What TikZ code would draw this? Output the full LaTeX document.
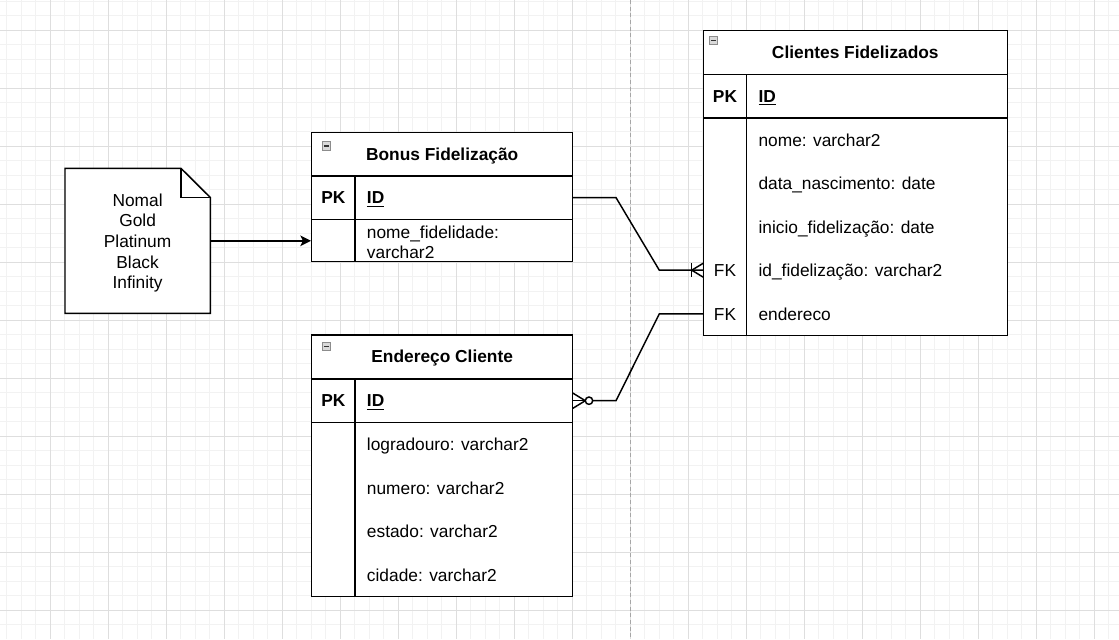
\documentclass[tikz,border=0pt]{standalone}
\usepackage{fontspec}
\setmainfont{Liberation Sans}
\usetikzlibrary{arrows.meta,fit}
\begin{document}
\begin{tikzpicture}[x=0.75pt,y=-0.75pt,
  minor/.style={draw=black!5,line width=0.75pt},
  major/.style={draw=black!13,line width=0.75pt},
  pagebreak/.style={draw=black!35,line width=0.75pt,dash pattern=on 3pt off 2pt},
  box/.style={draw=black,line width=1.1pt,fill=white,inner sep=0pt},
  sep/.style={draw=black,line width=1.1pt},
  lnk/.style={draw=black,line width=1.1pt},
  txt/.style={font=\fontsize{13}{15}\selectfont,inner sep=0pt},
  ttl/.style={font=\fontsize{13}{15}\selectfont\bfseries,inner sep=0pt},
  icon/.style={draw=black!45,fill=black!15,line width=0.5pt},
  iconbar/.style={draw=black!80,line width=0.9pt}]

\fill[white] (0,0) rectangle (1119,639);
\useasboundingbox (0,0) rectangle (1119,639);

% grid
\foreach \i in {0,...,76} { \draw[minor] ({6.5+14.5*\i},0) -- ({6.5+14.5*\i},639); }
\foreach \j in {0,...,43} { \draw[minor] (0,{1.3+14.5*\j}) -- (1119,{1.3+14.5*\j}); }
\foreach \i in {0,...,18} { \draw[major] ({50+58*\i},0) -- ({50+58*\i},639); }
\foreach \j in {0,...,10} { \draw[major] (0,{30.3+58*\j}) -- (1119,{30.3+58*\j}); }
\draw[pagebreak] (630,0) -- (630,639);

% note
\node[inner sep=0pt,fit={(65,168.3) (210.3,313.3)}] (note) {};
\draw[box] (65,168.3) -- (181,168.3) -- (210.3,197.5) -- (210.3,313.3) -- (65,313.3) -- cycle;
\draw[sep] (181,168.3) -- (181,197.5) -- (210.3,197.5);
\node[txt,align=center,font=\fontsize{13}{15.5}\selectfont] (noteT) at (137.6,243) {Nomal\\Gold\\Platinum\\Black\\Infinity};

% Bonus Fidelizacao
\node[box,fit={(311.7,132.3) (572.7,261.7)}] (bonus) {};
\draw[sep] (311.7,176) -- (572.7,176);
\draw[sep] (311.7,219.3) -- (572.7,219.3);
\draw[sep] (355,176) -- (355,261.7);
\draw[icon] (322.3,141.7) rectangle (330.5,150);
\draw[iconbar] (323.8,145.9) -- (329,145.9);
\node[ttl,anchor=base] (bonusT) at (442.2,160) {Bonus Fidelização};
\node[ttl,anchor=base] (bonusPK) at (333.4,203.9) {PK};
\node[ttl,anchor=base west] (bonusID) at (366.7,203.9) {\underline{ID}};
\node[txt,anchor=north west,align=left] (bonusF) at (366.7,225.6) {nome\_fidelidade:\\varchar2};

% Clientes Fidelizados
\node[box,fit={(703.3,30.7) (1007.3,335.3)}] (cli) {};
\draw[sep] (703.3,74.3) -- (1007.3,74.3);
\draw[sep] (703.3,118) -- (1007.3,118);
\draw[sep] (746.7,74.3) -- (746.7,335.3);
\draw[icon] (709.3,36.5) rectangle (717.5,44.8);
\draw[iconbar] (710.8,40.7) -- (716,40.7);
\node[ttl,anchor=base] (cliT) at (855.3,58.3) {Clientes Fidelizados};
\node[ttl,anchor=base] (cliPK) at (725,102.4) {PK};
\node[ttl,anchor=base west] (cliID) at (758.3,102.4) {\underline{ID}};
\node[txt,anchor=base west] (cliF1) at (758.3,146.3) {nome: varchar2};
\node[txt,anchor=base west] (cliF2) at (758.3,189.8) {data\_nascimento: date};
\node[txt,anchor=base west] (cliF3) at (758.3,233.3) {inicio\_fidelização: date};
\node[txt,anchor=base] (cliFK1) at (725,276.8) {FK};
\node[txt,anchor=base west] (cliF4) at (758.3,276.8) {id\_fidelização: varchar2};
\node[txt,anchor=base] (cliFK2) at (725,320.3) {FK};
\node[txt,anchor=base west] (cliF5) at (758.3,320.3) {endereco};

% Endereco Cliente
\node[box,fit={(311.7,335) (572.7,596.7)}] (end) {};
\draw[sep] (311.7,379) -- (572.7,379);
\draw[sep] (311.7,422.3) -- (572.7,422.3);
\draw[sep] (355,379) -- (355,596.7);
\draw[icon] (322.3,342.3) rectangle (330.5,350.6);
\draw[iconbar] (323.8,346.5) -- (329,346.5);
\node[ttl,anchor=base] (endT) at (442.2,362.8) {Endereço Cliente};
\node[ttl,anchor=base] (endPK) at (333.4,406.9) {PK};
\node[ttl,anchor=base west] (endID) at (366.7,406.9) {\underline{ID}};
\node[txt,anchor=base west] (endF1) at (366.7,450.5) {logradouro: varchar2};
\node[txt,anchor=base west] (endF2) at (366.7,494) {numero: varchar2};
\node[txt,anchor=base west] (endF3) at (366.7,537.5) {estado: varchar2};
\node[txt,anchor=base west] (endF4) at (366.7,581) {cidade: varchar2};

% connector: note -> Bonus
\draw[lnk,-{Stealth[length=8pt,width=8pt,inset=2pt]}] (note.east) -- (note.east -| bonus.west);

% connector: Bonus PK -> Clientes id_fidelizacao (one-to-many)
\coordinate (bPKr) at (572.7,197.6);
\coordinate (cFK1l) at (703.3,270.2);
\coordinate (c1m) at (691.7,270.2);
\draw[lnk] (bPKr) -- (616,197.6) -- (659.3,270.2) -- (cFK1l);
\draw[lnk] (691.7,263.2) -- (691.7,277.2);
\draw[lnk] (c1m) -- (703.3,263.2);
\draw[lnk] (c1m) -- (703.3,277.2);

% connector: Clientes endereco -> Endereco PK (zero-to-many)
\coordinate (cFK2l) at (703.3,313.8);
\coordinate (ePKr) at (572.7,400.7);
\coordinate (c2m) at (585.3,400.7);
\draw[lnk] (cFK2l) -- (659.3,313.8) -- (616,400.7) -- (592.7,400.7);
\draw[lnk,fill=white] (589,400.7) circle[radius=3.7];
\draw[lnk] (ePKr) -- (c2m);
\draw[lnk] (c2m) -- (572.7,393);
\draw[lnk] (c2m) -- (572.7,408.4);
\end{tikzpicture}
\end{document}
